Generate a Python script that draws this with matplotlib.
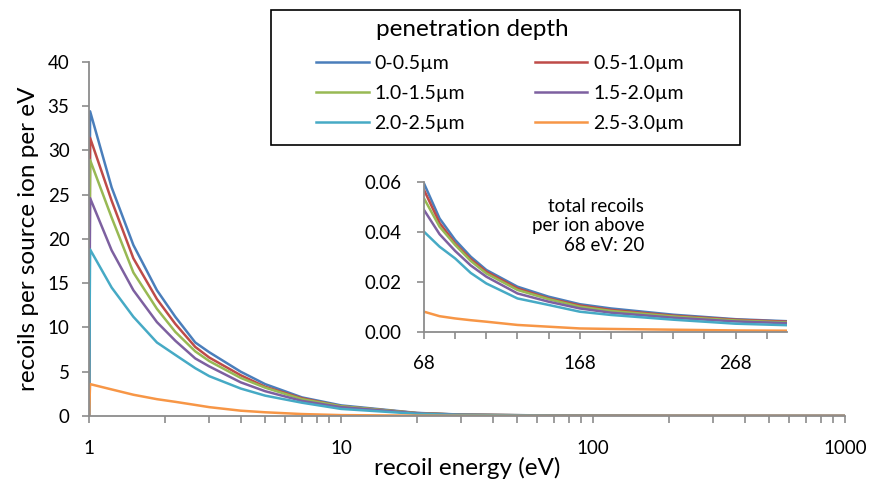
import numpy as np
import matplotlib
matplotlib.use("Agg")
import matplotlib.pyplot as plt
from matplotlib.patches import Rectangle
from matplotlib.ticker import FixedLocator, NullFormatter, FormatStrFormatter

plt.rcParams["font.family"] = ["Lato", "DejaVu Sans"]

# recoil energy (eV) sample points
energy = [1.0, 1.01, 1.23, 1.5, 1.86, 2.2, 2.64, 3, 4, 5, 7, 10, 20, 30, 68, 100, 200, 300, 1000]

labels = ["0-0.5\u00b5m", "0.5-1.0\u00b5m", "1.0-1.5\u00b5m",
          "1.5-2.0\u00b5m", "2.0-2.5\u00b5m", "2.5-3.0\u00b5m"]

main_d1 = [0, 34.4, 25.8, 19.3, 14.2, 11.2, 8.3, 7.2, 5.0, 3.6, 2.1, 1.2, 0.35, 0.16, 0.059, 0.030, 0.008, 0.004, 0.0005]
main_d2 = [0, 31.4, 24.3, 17.8, 13.2, 10.4, 7.8, 6.6, 4.6, 3.3, 2.0, 1.1, 0.33, 0.15, 0.057, 0.029, 0.0075, 0.004, 0.0005]
main_d3 = [0, 28.9, 22.4, 16.2, 12.1, 9.5, 7.3, 6.2, 4.3, 3.2, 1.9, 1.1, 0.32, 0.145, 0.053, 0.028, 0.007, 0.0037, 0.0005]
main_d4 = [0, 24.6, 18.7, 14.2, 10.6, 8.5, 6.5, 5.6, 3.8, 2.8, 1.7, 1.0, 0.30, 0.135, 0.049, 0.026, 0.0065, 0.0034, 0.0004]
main_d5 = [0, 18.8, 14.5, 11.2, 8.3, 6.9, 5.4, 4.5, 3.1, 2.3, 1.5, 0.8, 0.25, 0.11, 0.040, 0.023, 0.005, 0.0026, 0.0003]
main_d6 = [0, 3.6, 3.0, 2.4, 1.9, 1.6, 1.25, 1.0, 0.6, 0.42, 0.22, 0.1, 0.04, 0.02, 0.008, 0.0045, 0.0008, 0.0004, 0.0001]

# inset: 68 eV to ~300 eV
inset_energy = [68, 78, 88, 98, 108, 128, 148, 168, 188, 228, 268, 301]
inset_d1 = [0.0593, 0.0453, 0.0367, 0.0300, 0.0247, 0.0180, 0.0140, 0.0110, 0.0093, 0.0068, 0.0050, 0.0042]
inset_d2 = [0.0567, 0.0435, 0.0353, 0.0290, 0.0240, 0.0173, 0.0133, 0.0105, 0.0087, 0.0064, 0.0048, 0.0040]
inset_d3 = [0.0533, 0.0420, 0.0347, 0.0283, 0.0233, 0.0167, 0.0130, 0.0100, 0.0083, 0.0061, 0.0045, 0.0037]
inset_d4 = [0.0487, 0.0390, 0.0323, 0.0265, 0.0220, 0.0153, 0.0120, 0.0093, 0.0076, 0.0056, 0.0041, 0.0034]
inset_d5 = [0.0400, 0.0340, 0.0293, 0.0235, 0.0193, 0.0133, 0.0107, 0.0080, 0.0067, 0.0048, 0.0032, 0.0026]
inset_d6 = [0.0080, 0.0062, 0.0053, 0.0046, 0.0040, 0.0027, 0.0020, 0.0013, 0.0011, 0.0008, 0.0005, 0.0004]

main_series = [main_d1, main_d2, main_d3, main_d4, main_d5, main_d6]
inset_series = [inset_d1, inset_d2, inset_d3, inset_d4, inset_d5, inset_d6]

colors = ["#4a7ebb", "#be4b48", "#98b954", "#7d60a0", "#46aac5", "#f79646"]
axis_grey = "#8c8c8c"
W, H = 876, 482

fig = plt.figure(figsize=(8.76, 4.82), dpi=100)
ax = fig.add_axes([89 / W, 1 - 416 / H, (845 - 89) / W, (416 - 61.7) / H])

handles = []
for vals, c, lab in zip(main_series, colors, labels):
    h, = ax.plot(energy, vals, color=c, lw=1.8, label=lab)
    handles.append(h)

ax.set_xscale("log")
ax.set_xlim(1, 1000)
ax.set_ylim(0, 40)
ax.set_yticks(range(0, 41, 5))
ax.set_xticks([1, 10, 100, 1000])
ax.set_xticklabels(["1", "10", "100", "1000"])
ax.xaxis.set_minor_formatter(NullFormatter())
for s in ["top", "right"]:
    ax.spines[s].set_visible(False)
for s in ["left", "bottom"]:
    ax.spines[s].set_color(axis_grey)
    ax.spines[s].set_linewidth(1.3)
ax.tick_params(axis="both", which="both", color=axis_grey, width=1.2, length=5, labelsize=13.5)
ax.tick_params(axis="x", which="major", pad=12)
ax.tick_params(axis="y", pad=9)
ax.set_xlabel("recoil energy (eV)", fontsize=17.5, labelpad=0)
ax.set_ylabel("recoils per source ion per eV", fontsize=17.5, labelpad=6)

# inset axes
ins = fig.add_axes([424 / W, 1 - 331.7 / H, (787 - 424) / W, (331.7 - 181.7) / H])
for vals, c in zip(inset_series, colors):
    ins.plot(inset_energy, vals, color=c, lw=1.8)
ins.set_xlim(68, 301)
ins.set_ylim(0, 0.06)
ins.set_yticks([0, 0.02, 0.04, 0.06])
ins.yaxis.set_major_formatter(FormatStrFormatter("%.2f"))
ins.set_xticks([68, 168, 268])
ins.xaxis.set_minor_locator(FixedLocator(list(range(88, 300, 20))))
ins.patch.set_alpha(0)
for s in ["top", "right"]:
    ins.spines[s].set_visible(False)
for s in ["left", "bottom"]:
    ins.spines[s].set_color(axis_grey)
    ins.spines[s].set_linewidth(1.3)
ins.tick_params(axis="both", which="both", color=axis_grey, width=1.2, length=5, labelsize=13.5)
ins.tick_params(axis="x", which="major", pad=12)
ins.tick_params(axis="y", pad=11)
fig.text(644 / W, 1 - 226 / H, "total recoils\nper ion above\n68 eV: 20",
         ha="right", va="center", fontsize=13.5, linespacing=1.2)

# legend: box, title and entries placed separately (entries row by row)
fig.patches.append(Rectangle((271 / W, 1 - 145 / H), (740 - 271) / W, (145 - 10) / H,
                             transform=fig.transFigure, fill=False, edgecolor="black", lw=1.2))
fig.text(472 / W, 1 - 30 / H, "penetration depth", ha="center", va="center", fontsize=17.5)
order = [0, 2, 4, 1, 3, 5]
fig.legend([handles[i] for i in order], [labels[i] for i in order], ncol=2,
           loc="upper left", bbox_to_anchor=(316 / W, 1 - 55 / H), frameon=False,
           fontsize=14, handlelength=2.7, handletextpad=0.3, columnspacing=3.6,
           labelspacing=0.66, borderpad=0, borderaxespad=0)

fig.savefig("out.png", dpi=100)
